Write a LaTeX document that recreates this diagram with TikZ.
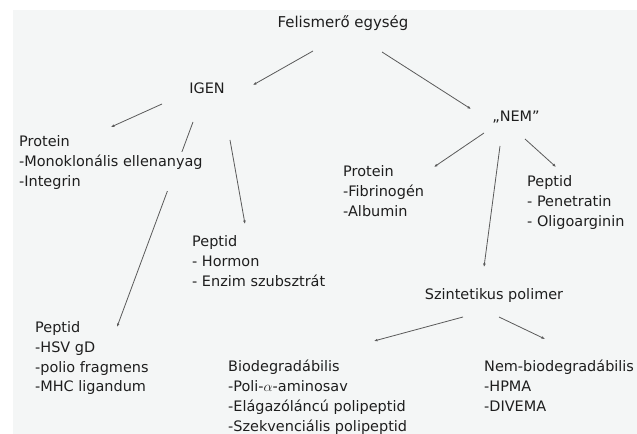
\documentclass[tikz,border=0pt]{standalone}
\usepackage{fontspec}
\setmainfont{DejaVu Sans}
\usetikzlibrary{arrows.meta,calc,backgrounds}
\definecolor{paper}{HTML}{F4F6F6}
\definecolor{ink}{HTML}{1E1E1E}
\definecolor{wire}{HTML}{5A5A5A}

\begin{document}
\begin{tikzpicture}[
    x=1bp, y=-1bp,
    lbl/.style={font=\fontsize{14.5}{20}\selectfont, text=ink, inner sep=2bp},
    group/.style={lbl, align=left, anchor=north west},
    arrow/.style={wire, line width=0.8bp, -{Latex[length=3.5bp,width=2.8bp]}}
]
\useasboundingbox (0,0) rectangle (637,434);

% Sheet
\begin{scope}[on background layer]
\fill[paper] (13,10) rectangle (637,434);
\end{scope}

% Nodes
\node[lbl, font=\fontsize{15}{20}\selectfont] (felis) at (343,23) {Felismerő egység};
\node[lbl] (igen) at (207,88) {IGEN};
\node[lbl] (nem) at (516,117) {„NEM”};
\node[lbl] (szint) at (494,296) {Szintetikus polimer};

\node[group] (protL) at (17,133) {Protein\\-Monoklonális ellenanyag\\-Integrin};
\node[group] (hsv) at (33,319) {Peptid\\-HSV gD\\-polio fragmens\\-MHC ligandum};
\node[group] (horm) at (190,233) {Peptid\\- Hormon\\- Enzim szubsztrát};
\node[group] (fib) at (341,163) {Protein\\-Fibrinogén\\-Albumin};
\node[group] (pen) at (525,173) {Peptid\\- Penetratin\\- Oligoarginin};
\node[group] (bio) at (226,358) {Biodegradábilis\\-Poli-$\alpha$-aminosav\\-Elágazóláncú polipeptid\\-Szekvenciális polipeptid};
\node[group] (nbio) at (482,358) {Nem-biodegradábilis\\-HPMA\\-DIVEMA};

% Arrows
\begin{scope}[on background layer]
\draw[arrow] ($(felis)+(-30,28)$) -- ($(igen)+(46,-3)$);
\draw[arrow] ($(felis)+(39,29)$) -- ($(nem)+(-45,-8)$);
\draw[arrow] ($(igen)+(-45,16)$) -- ($(protL.north west)+(94,-6)$);
\draw[arrow] ($(igen)+(-14,34)$) -- ($(hsv.north west)+(84,8)$);
\draw[arrow] ($(igen)+(23,52)$) -- ($(horm.north west)+(55,-9)$);
\draw[arrow] ($(nem)+(-32,16)$) -- ($(fib.north west)+(93,4)$);
\draw[arrow] ($(nem)+(9,22)$) -- ($(pen.north west)+(31,-6)$);
\draw[arrow] ($(nem)+(-16,29)$) -- ($(szint)+(-10,-29)$);
\draw[arrow] ($(szint)+(-31,21)$) -- ($(bio.north west)+(148,-17)$);
\draw[arrow] ($(szint)+(5,21)$) -- ($(nbio.north west)+(63,-19)$);
% text backing hides the wire behind the Protein list
\fill[paper] ($(protL.north west)+(0,19)$) rectangle (protL.south east);
\end{scope}

\end{tikzpicture}
\end{document}
